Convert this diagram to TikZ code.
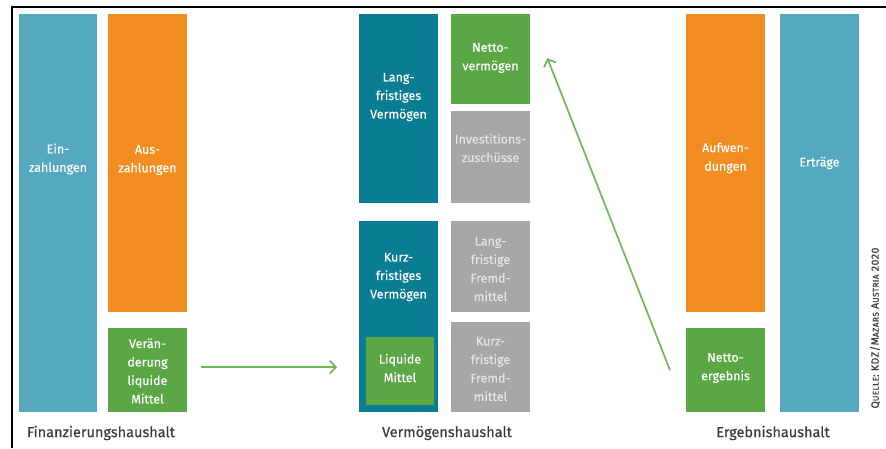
\documentclass[tikz,border=0pt]{standalone}
\usepackage{fontspec}
\setmainfont{Fira Sans}
\newfontfamily\medfont{Fira Sans}[FakeBold=0.35]
\newfontfamily\srcfont{Fira Sans}[LetterSpace=5, FakeBold=0.6]
\usetikzlibrary{arrows.meta}
\definecolor{lteal}{HTML}{54A8BF}
\definecolor{dteal}{HTML}{0B7D93}
\definecolor{oran}{HTML}{F18D21}
\definecolor{grn}{HTML}{5BA645}
\definecolor{gry}{HTML}{A7A7AA}
\definecolor{gtxt}{HTML}{E6E6E8}
\definecolor{agrn}{HTML}{6DB85A}
\definecolor{lbl}{HTML}{3A3A3A}
\newcommand\qsc[1]{{\fontsize{8.3}{9}\selectfont #1}}
\tikzset{
  box/.style={rectangle, inner sep=0pt, draw=none, anchor=north west},
  btext/.style={align=center, text=white, inner sep=0pt, font=\medfont\fontsize{12.5}{18.5}\selectfont},
  gtext/.style={btext, text=gtxt},
  sect/.style={text=lbl, inner sep=0pt, font=\medfont\fontsize{14.5}{18}\selectfont},
  flow/.style={draw=agrn, line width=1.7pt, -{Straight Barb[length=6pt,width=13pt,line width=1.7pt]}},
  frame/.style={line width=2pt, black}
}
\begin{document}
\begin{tikzpicture}[x=1pt,y=-1pt]
\useasboundingbox (0,0) rectangle (886,448);
\draw[frame] (12,448) -- (12,7) coordinate (fc) -- (886,7);
% Finanzierungshaushalt
\node[box, fill=lteal, minimum width=78pt, minimum height=398pt] (ein) at (19,14) {};
\node[box, fill=oran, minimum width=79pt, minimum height=298pt] (aus) at (108,14) {};
\node[box, fill=grn, minimum width=79pt, minimum height=84pt] (ver) at (108,328) {};
\node[btext] (eint) at (58,159) {Ein-\\zahlungen};
\node[btext] (aust) at (147.5,160) {Aus-\\zahlungen};
\node[btext] (vert) at (147.5,371) {Verän-\\derung\\liquide\\Mittel};
\node[sect] (fh) at (101,433) {Finanzierungshaushalt};
% Vermoegenshaushalt
\node[box, fill=dteal, minimum width=79pt, minimum height=189pt] (lfv) at (359,14) {};
\node[box, fill=dteal, minimum width=79pt, minimum height=191pt] (kfv) at (359,221) {};
\node[box, fill=grn, minimum width=68pt, minimum height=68pt] (lm) at (366,337) {};
\node[box, fill=grn, minimum width=79pt, minimum height=90pt] (nv) at (451,14) {};
\node[box, fill=gry, minimum width=79pt, minimum height=92pt] (iz) at (451,111) {};
\node[box, fill=gry, minimum width=79pt, minimum height=91pt] (lff) at (451,221) {};
\node[box, fill=gry, minimum width=79pt, minimum height=90pt] (kff) at (451,322) {};
\node[btext] (lfvt) at (398.5,97) {Lang-\\fristiges\\Vermögen};
\node[btext] (kfvt) at (398.5,277) {Kurz-\\fristiges\\Vermögen};
\node[btext] (lmt) at (400,368) {Liquide\\Mittel};
\node[btext] (nvt) at (490.5,58) {Netto-\\vermögen};
\node[gtext] (izt) at (490.5,148) {Investitions-\\zuschüsse};
\node[gtext] (lfft) at (490.5,269) {Lang-\\fristige\\Fremd-\\mittel};
\node[gtext] (kfft) at (490.5,369) {Kurz-\\fristige\\Fremd-\\mittel};
\node[sect] (vh) at (447,433) {Vermögenshaushalt};
% Ergebnishaushalt
\node[box, fill=oran, minimum width=79pt, minimum height=298pt] (auf) at (686,14) {};
\node[box, fill=grn, minimum width=79pt, minimum height=84pt] (ne) at (686,328) {};
\node[box, fill=lteal, minimum width=79pt, minimum height=398pt] (ert) at (780,14) {};
\node[btext] (auft) at (725.5,158) {Aufwen-\\dungen};
\node[btext] (ertt) at (819.5,163) {Erträge};
\node[btext] (net) at (725.5,368) {Netto-\\ergebnis};
\node[sect] (eh) at (773,433) {Ergebnishaushalt};
% source
\node[rotate=90, text=lbl, inner sep=0pt, font=\srcfont\fontsize{10.5}{11}\selectfont] (src) at (875,328)
  {Q\qsc{UELLE}: KDZ/M\qsc{AZARS} A\qsc{USTRIA} 2020};
% flows
\coordinate (vs) at ([xshift=14pt,yshift=3pt]ver.east);
\draw[flow, shorten >=22pt] (vs) -- (kfv.west |- vs);
\draw[flow] ([xshift=-16pt]ne.west) -- ([xshift=17pt,yshift=1pt]nv.east);
\end{tikzpicture}
\end{document}
